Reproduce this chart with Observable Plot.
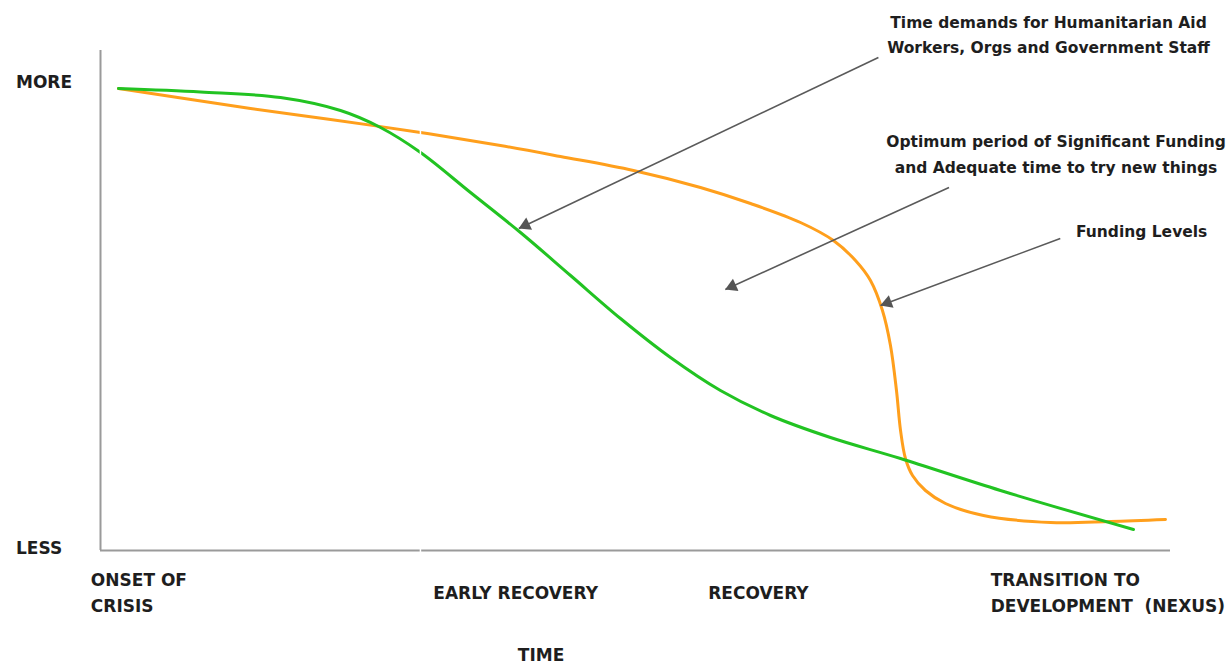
<!DOCTYPE html>
<html>
<head>
<meta charset="utf-8">
<script src="https://cdn.jsdelivr.net/npm/d3@7"></script>
<script src="https://cdn.jsdelivr.net/npm/@observablehq/plot@0.6"></script>
<style>
  html, body { margin: 0; padding: 0; background: #fff; overflow: hidden; }
  #chart svg { display: block; }
</style>
</head>
<body>
<div id="chart"></div>
<script>
// ---- data (time 0..100, level 0..100) ----
const demandTime   = [1.68, 9.35, 16.82, 22.43, 26.17, 29.91, 34.58, 39.25, 43.93, 48.60, 53.27, 57.94, 62.62, 68.22, 74.77, 84.11, 96.54];
const demandLevel  = [92.4, 91.7, 90.6, 88.0, 84.6, 79.6, 71.6, 63.6, 55.0, 46.4, 38.6, 32.0, 27.0, 22.6, 18.4, 12.0, 4.2];

const fundingTime  = [1.68, 14.02, 21.50, 29.91, 37.38, 42.99, 49.81, 56.07, 60.75, 65.42, 68.50, 70.56, 71.96, 73.08, 73.83, 74.39, 74.77, 75.23, 75.89, 77.10, 78.97, 82.52, 88.79, 94.39, 99.53];
const fundingLevel = [92.4, 88.4, 86.2, 83.6, 81.0, 78.8, 76.0, 72.6, 69.4, 65.6, 62.0, 58.0, 54.0, 48.0, 41.0, 32.0, 24.0, 18.4, 15.0, 12.0, 9.4, 7.0, 5.6, 5.8, 6.2];

const stageLabels = ["ONSET OF\nCRISIS", "EARLY RECOVERY", "RECOVERY", "TRANSITION TO\nDEVELOPMENT  (NEXUS)"];
const stageTime   = [-0.9, 31.1, 56.8, 83.2];

const levelLabels = ["MORE", "LESS"];
const levelValues = [93.6, 0.4];

const axisTitle = "TIME";

const annoLabels = [
  "Time demands for Humanitarian Aid\nWorkers, Orgs and Government Staff",
  "Optimum period of Significant Funding\nand Adequate time to try new things",
  "Funding Levels"
];
const annoTextX = [88.6, 89.3, 97.3];
const annoTextY = [103.6, 79.7, 64.4];
const annoFromX = [72.7, 79.3, 89.7];
const annoFromY = [98.6, 72.6, 62.4];
const annoToX   = [39.1, 58.4, 72.9];
const annoToY   = [64.4, 52.2, 49.0];

const gapTime = [29.9];

// ---- layout ----
const W = 1229, H = 665;
const mL = 100, mR = 59, mT = 50, mB = 115;
const kx = (W - mL - mR) / 100, ky = (H - mT - mB) / 100;

const demand  = demandTime.map((t, i) => ({t, v: demandLevel[i]}));
const funding = fundingTime.map((t, i) => ({t, v: fundingLevel[i]}));
const stages  = stageLabels.map((s, i) => ({s, t: stageTime[i], v: -8.1}));
const levels  = levelLabels.map((s, i) => ({s, t: -7.9, v: levelValues[i]}));
const annos   = annoLabels.map((s, i) => {
  const dxp = (annoToX[i] - annoFromX[i]) * kx;
  const dyp = -(annoToY[i] - annoFromY[i]) * ky; // screen
  const len = Math.hypot(dxp, dyp);
  const off = 7.5; // pixels back from tip to triangle centroid
  return {
    s, tx: annoTextX[i], ty: annoTextY[i],
    x1: annoFromX[i], y1: annoFromY[i], x2: annoToX[i], y2: annoToY[i],
    hx: annoToX[i] - (dxp / len) * off / kx,
    hy: annoToY[i] + (dyp / len) * off / ky,
    rot: Math.atan2(dxp, -dyp) * 180 / Math.PI
  };
});

const font = "DejaVu Sans, sans-serif";

const chart = Plot.plot({
  width: W, height: H,
  marginLeft: mL, marginRight: mR, marginTop: mT, marginBottom: mB,
  x: {domain: [0, 100], axis: null},
  y: {domain: [0, 100], axis: null},
  style: {fontFamily: font, background: "#fff", overflow: "visible"},
  marks: [
    // axes
    Plot.ruleX([0], {y1: 0, y2: 100, stroke: "#9a9a9a", strokeWidth: 2}),
    Plot.ruleY([0], {x1: 0, x2: 100, stroke: "#9a9a9a", strokeWidth: 2}),
    // curves
    Plot.line(funding, {x: "t", y: "v", curve: "catmull-rom", stroke: "#ff9f1c", strokeWidth: 3}),
    Plot.line(demand, {x: "t", y: "v", curve: "catmull-rom", stroke: "#22c322", strokeWidth: 3}),
    // white seam
    Plot.ruleX(gapTime, {y1: -1, y2: 95, stroke: "#fff", strokeWidth: 1.5}),
    // annotation arrows
    Plot.link(annos, {x1: "x1", y1: "y1", x2: "x2", y2: "y2", stroke: "#5a5a5a", strokeWidth: 1.6}),
    Plot.dot(annos, {x: "hx", y: "hy", symbol: "triangle", r: 5, fill: "#555", rotate: "rot"}),
    // annotation texts
    Plot.text(annos, {x: "tx", y: "ty", text: "s", fontSize: 15.5, fontWeight: "bold", fill: "#1e1e1e", lineHeight: 1.65, textAnchor: "middle", clip: false}),
    // level labels
    Plot.text(levels, {x: "t", y: "v", text: "s", fontSize: 17, fontWeight: "bold", fill: "#1e1e1e", textAnchor: "start"}),
    // stage labels
    Plot.text(stages, {x: "t", y: "v", text: "s", fontSize: 17, fontWeight: "bold", fill: "#1e1e1e", textAnchor: "start", lineHeight: 1.5}),
    // axis title
    Plot.text([axisTitle], {x: 39.0, y: -21, text: d => d, fontSize: 17, fontWeight: "bold", fill: "#1e1e1e", textAnchor: "start"})
  ]
});
document.getElementById("chart").appendChild(chart);
</script>
</body>
</html>
